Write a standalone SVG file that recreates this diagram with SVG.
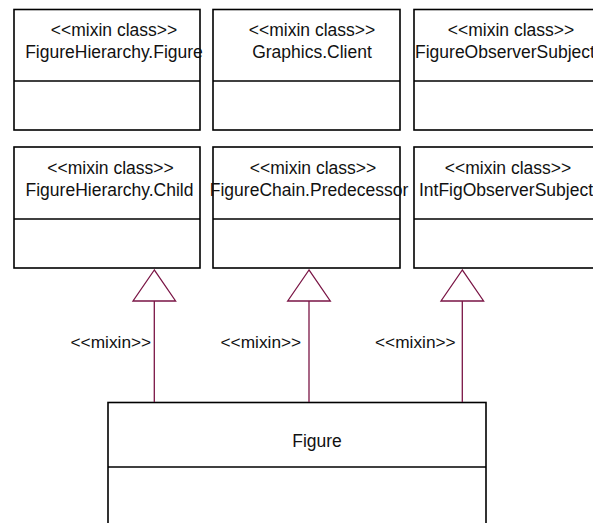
<svg xmlns="http://www.w3.org/2000/svg" width="593" height="523" viewBox="0 0 593 523">
  <defs>
    <style>
      .box { fill: #ffffff; stroke: #000000; stroke-width: 1.6; }
      .div { stroke: #000000; stroke-width: 1.6; }
      .t { font-family: "Liberation Sans", Arial, sans-serif; font-size: 17.5px; fill: #111111; text-anchor: middle; }
      .lbl { font-family: "Liberation Sans", Arial, sans-serif; font-size: 17.3px; fill: #111111; }
      .edge { stroke: #7a1545; stroke-width: 1.3; fill: none; }
      .head { stroke: #7a1545; stroke-width: 1.3; fill: #ffffff; }
    </style>
  </defs>

  <!-- mixin classes, top row -->
  <g id="FigureHierarchyFigure">
    <rect class="box" x="14" y="9.5" width="186" height="120.5"/>
    <line class="div" x1="14" y1="81" x2="200" y2="81"/>
    <text class="t" x="114" y="36">&lt;&lt;mixin class&gt;&gt;</text>
    <text class="t" x="114" y="58">FigureHierarchy.Figure</text>
  </g>
  <g id="GraphicsClient">
    <rect class="box" x="213" y="9.5" width="187" height="120.5"/>
    <line class="div" x1="213" y1="81" x2="400" y2="81"/>
    <text class="t" x="312" y="36">&lt;&lt;mixin class&gt;&gt;</text>
    <text class="t" x="312" y="58">Graphics.Client</text>
  </g>
  <g id="FigureObserverSubject">
    <rect class="box" x="414" y="9.5" width="187" height="120.5"/>
    <line class="div" x1="414" y1="81" x2="601" y2="81"/>
    <text class="t" x="511" y="36">&lt;&lt;mixin class&gt;&gt;</text>
    <text class="t" x="505" y="58">FigureObserverSubject</text>
  </g>

  <!-- mixin classes, second row -->
  <g id="FigureHierarchyChild">
    <rect class="box" x="14" y="147" width="186" height="121"/>
    <line class="div" x1="14" y1="219" x2="200" y2="219"/>
    <text class="t" x="110.5" y="173.5">&lt;&lt;mixin class&gt;&gt;</text>
    <text class="t" x="109.5" y="195.5">FigureHierarchy.Child</text>
  </g>
  <g id="FigureChainPredecessor">
    <rect class="box" x="213" y="147" width="187" height="121"/>
    <line class="div" x1="213" y1="219" x2="400" y2="219"/>
    <text class="t" x="313" y="173.5">&lt;&lt;mixin class&gt;&gt;</text>
    <text class="t" x="309" y="195.5">FigureChain.Predecessor</text>
  </g>
  <g id="IntFigObserverSubject">
    <rect class="box" x="414" y="147" width="187" height="121"/>
    <line class="div" x1="414" y1="219" x2="601" y2="219"/>
    <text class="t" x="508" y="173.5">&lt;&lt;mixin class&gt;&gt;</text>
    <text class="t" x="506" y="195.5">IntFigObserverSubject</text>
  </g>

  <!-- the class that mixes them in -->
  <g id="Figure">
    <rect class="box" x="108" y="402.5" width="378" height="130"/>
    <line class="div" x1="108" y1="467" x2="486" y2="467"/>
    <text class="t" x="317" y="447">Figure</text>
  </g>

  <!-- mixin relations: Figure to the second-row classes -->
  <g id="connectors">
    <line class="edge" x1="154.3" y1="301" x2="154.3" y2="402"/>
    <polygon class="head" points="154.3,270 133,301 175.6,301"/>
    <text class="lbl" x="70.5" y="348">&lt;&lt;mixin&gt;&gt;</text>

    <line class="edge" x1="309" y1="301" x2="309" y2="402"/>
    <polygon class="head" points="309,270 287.7,301 330.3,301"/>
    <text class="lbl" x="220.5" y="348">&lt;&lt;mixin&gt;&gt;</text>

    <line class="edge" x1="462.3" y1="301" x2="462.3" y2="402"/>
    <polygon class="head" points="462.3,270 441,301 483.6,301"/>
    <text class="lbl" x="375" y="348">&lt;&lt;mixin&gt;&gt;</text>
  </g>
</svg>
